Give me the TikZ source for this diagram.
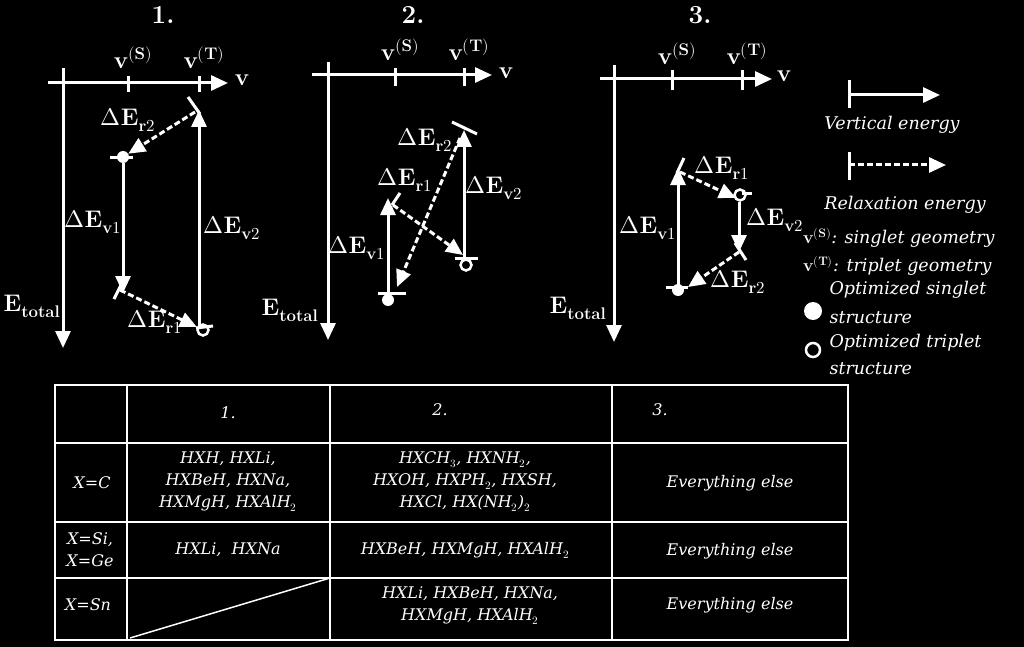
\documentclass[tikz,border=0pt]{standalone}
\usepackage{fontspec}
\usepackage{unicode-math}
\setmathfont{Latin Modern Math}
\newfontfamily\dvs{DejaVu Serif}
\usetikzlibrary{arrows.meta}
\begin{document}
\begin{tikzpicture}[x=1pt,y=-1pt,
  every node/.style={text=white},
  ln/.style={draw=white,line width=3pt},
  arr/.style={ln,-{Triangle[length=17pt,width=15pt]}},
  darr/.style={arr,dash pattern=on 6pt off 3pt},
  tick/.style={ln},
  big/.style={font=\fontsize{26}{28}\selectfont\bfseries},
  lab/.style={font=\fontsize{24}{26}\selectfont\bfseries},
  it/.style={font=\dvs\fontsize{17.5}{20}\selectfont\itshape},
  tb/.style={font=\dvs\fontsize{16}{22}\selectfont\itshape,align=center},
  fdot/.style={circle,fill=white,inner sep=0pt,minimum size=12pt},
  odot/.style={circle,draw=white,line width=2.5pt,fill=black,inner sep=0pt,minimum size=11pt}]
\fill[black] (0,0) rectangle (1024,647);
\useasboundingbox (0,0) rectangle (1024,647);
\newcommand{\dE}[2]{$\Delta\mathbf{E}_{\mathbf{#1}#2}$}
\newcommand{\vlab}[1]{$\mathbf{v}^{\mathbf{(#1)}}$}
% ---------- diagram 1
\node[big] (t1) at (163,15) {1.};
\draw[arr] (48,83) -- (228,83);
\node[lab] (v1) at (242,80) {v};
\draw[arr] (63,68) -- (63,348);
\draw[tick] (128,76) -- (128,92); \draw[tick] (199,76) -- (199,92);
\node[lab] (s1) at (133,58) {\vlab{S}};
\node[lab] (tt1) at (204,58) {\vlab{T}};
\node[lab] (et1) at (32,306) {$\mathbf{E}_{\mathbf{total}}$};
\draw[tick] (188,97) -- (200,114);
\draw[arr] (199,330) -- (199,110);
\node[fdot] (sd1) at (123,157) {};
\draw[tick] (110,158) -- (133,158);
\draw[darr] (195,112) -- (sd1);
\draw[arr] (sd1) -- (123,293);
\draw[tick] (114,299) -- (122,283);
\node[odot] (od1) at (203,330) {};
\draw[tick] (196,328) -- (213,326);
\draw[darr] (120,290) -- (od1);
\node[lab] (r21) at (128,120) {\dE{r}{2}};
\node[lab] (ev11) at (93,222) {\dE{v}{1}};
\node[lab] (ev21) at (232,228) {\dE{v}{2}};
\node[lab] (r11) at (155,322) {\dE{r}{1}};
% ---------- diagram 2
\node[big] (t2) at (413,15) {2.};
\draw[arr] (312,75) -- (492,75);
\node[lab] (v2) at (506,73) {v};
\draw[arr] (328,62) -- (328,340);
\draw[tick] (395,68) -- (395,86); \draw[tick] (464,68) -- (464,86);
\node[lab] (s2) at (400,50) {\vlab{S}};
\node[lab] (tt2) at (469,50) {\vlab{T}};
\node[lab] (et2) at (290,310) {$\mathbf{E}_{\mathbf{total}}$};
\node[fdot] (sd2) at (388,300) {};
\draw[tick] (378,293) -- (406,293);
\draw[arr] (388,293) -- (388,198);
\draw[tick] (392,205) -- (400,193);
\node[odot] (od2) at (466,265) {};
\draw[tick] (455,258) -- (478,258);
\draw[darr] (393,205) -- (463,255);
\draw[arr] (464,258) -- (464,130);
\draw[tick] (452,122) -- (477,134);
\draw[darr] (460,138) -- (397,287);
\node[lab] (r22) at (425,140) {\dE{r}{2}};
\node[lab] (r12) at (405,180) {\dE{r}{1}};
\node[lab] (ev22) at (494,188) {\dE{v}{2}};
\node[lab] (ev12) at (357,248) {\dE{v}{1}};
% ---------- diagram 3
\node[big] (t3) at (700,15) {3.};
\draw[arr] (600,79) -- (772,79);
\node[lab] (v3) at (784,76) {v};
\draw[arr] (614,65) -- (614,342);
\draw[tick] (672,70) -- (672,90); \draw[tick] (742,70) -- (742,90);
\node[lab] (s3) at (677,54) {\vlab{S}};
\node[lab] (tt3) at (747,54) {\vlab{T}};
\node[lab] (et3) at (578,308) {$\mathbf{E}_{\mathbf{total}}$};
\node[fdot] (sd3) at (678,290) {};
\draw[tick] (666,287) -- (688,287);
\draw[arr] (678,287) -- (678,168);
\draw[tick] (677,173) -- (684,158);
\node[odot] (od3) at (740,195) {};
\draw[tick] (742,193) -- (752,193);
\draw[darr] (680,172) -- (736,198);
\draw[arr] (739,202) -- (739,252);
\draw[tick] (735,243) -- (746,260);
\draw[darr] (739,252) -- (688,287);
\node[lab] (r13) at (722,168) {\dE{r}{1}};
\node[lab] (ev13) at (648,228) {\dE{v}{1}};
\node[lab] (ev23) at (775,220) {\dE{v}{2}};
\node[lab] (r23) at (738,282) {\dE{r}{2}};
% ---------- legend
\draw[tick] (849,80) -- (849,108);
\draw[arr] (849,95) -- (940,95);
\node[it] (le1) at (892,125) {Vertical energy};
\draw[tick] (849,152) -- (849,180);
\draw[darr] (849,165) -- (946,165);
\node[it] (le2) at (905,205) {Relaxation energy};
\node[it,anchor=west,inner xsep=0pt] (le3) at (803,238) {$\mathbf{v}^{\mathbf{(S)}}$: singlet geometry};
\node[it,anchor=west,inner xsep=0pt] (le4) at (803,266) {$\mathbf{v}^{\mathbf{(T)}}$: triplet geometry};
\node[fdot,minimum size=18pt] (lf) at (813,311) {};
\node[it,anchor=west] (le5) at (826,290) {Optimized singlet};
\node[it,anchor=west] (le6) at (826,318) {structure};
\node[odot,minimum size=14pt] (lo) at (813,350) {};
\node[it,anchor=west] (le7) at (826,343) {Optimized triplet};
\node[it,anchor=west] (le8) at (826,369) {structure};
% ---------- table
\draw[draw=white,line width=2pt] (55,385) rectangle (848,640);
\foreach \x in {127,330,612} \draw[draw=white,line width=2pt] (\x,385) -- (\x,640);
\foreach \y in {443,522,578} \draw[draw=white,line width=2pt] (55,\y) -- (848,\y);
\draw[draw=white,line width=1.5pt] (130,638) -- (330,578);
\node[tb] (h1) at (228,413) {1.};
\node[tb] (h2) at (440,410) {2.};
\node[tb] (h3) at (660,410) {3.};
\node[tb] (c1) at (92,483) {X=C};
\node[tb] (c2) at (228,482) {HXH, HXLi,\\HXBeH, HXNa,\\HXMgH, HXAlH$_2$};
\node[tb] (c3) at (465,482) {HXCH$_3$, HXNH$_2$,\\HXOH, HXPH$_2$, HXSH,\\HXCl, HX(NH$_2$)$_2$};
\node[tb] (c4) at (730,483) {Everything else};
\node[tb] (d1) at (90,550) {X=Si,\\X=Ge};
\node[tb] (d2) at (228,550) {HXLi,\ \ HXNa};
\node[tb] (d3) at (465,550) {HXBeH, HXMgH, HXAlH$_2$};
\node[tb] (d4) at (730,551) {Everything else};
\node[tb] (e1) at (88,605) {X=Sn};
\node[tb] (e3) at (470,606) {HXLi, HXBeH, HXNa,\\HXMgH, HXAlH$_2$};
\node[tb] (e4) at (730,605) {Everything else};
\end{tikzpicture}
\end{document}
